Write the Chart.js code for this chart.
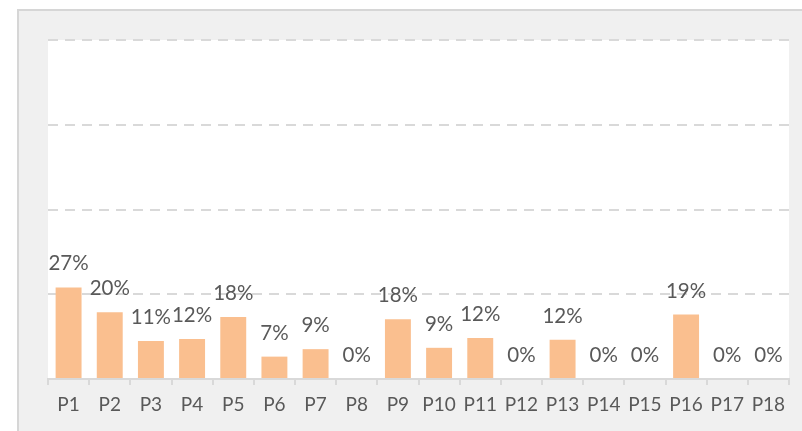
<!DOCTYPE html>
<html>
<head>
<meta charset="utf-8">
<script src="https://cdn.jsdelivr.net/npm/chart.js@4"></script>
<style>
html,body{margin:0;padding:0;background:#fff;}
#wrap{position:relative;width:802px;height:431px;}
canvas{display:block;}
</style>
</head>
<body>
<div id="wrap"><canvas id="c" width="802" height="431"></canvas></div>
<script>
const categories = ['P1','P2','P3','P4','P5','P6','P7','P8','P9','P10','P11','P12','P13','P14','P15','P16','P17','P18'];
const shares = [27, 19.7, 11.2, 11.8, 18.3, 6.6, 8.8, 0, 17.6, 9.2, 12.1, 0, 11.6, 0, 0, 19, 0, 0];
const shareLabels = ['27%','20%','11%','12%','18%','7%','9%','0%','18%','9%','12%','0%','12%','0%','0%','19%','0%','0%'];
const yTicks = [0, 25, 50, 75, 100];

const FONT = 'Lato, "Open Sans", sans-serif';
const TEXT = '#595959';
const GRID = '#D9D9D9';

const backdrop = {
  id: 'backdrop',
  beforeDraw(chart) {
    const ctx = chart.ctx, a = chart.chartArea;
    ctx.save();
    ctx.fillStyle = '#ffffff';
    ctx.fillRect(0, 0, chart.width, chart.height);
    ctx.fillStyle = '#F0F0F0';
    ctx.fillRect(17, 9, chart.width - 17, chart.height - 9);
    ctx.fillStyle = '#D6D6D6';
    ctx.fillRect(17, 9, chart.width - 17, 2);
    ctx.fillRect(17, 9, 2, chart.height - 9);
    ctx.fillStyle = '#ffffff';
    ctx.fillRect(a.left, a.top, a.right - a.left, a.bottom - a.top);
    ctx.restore();
  }
};

const barLabels = {
  id: 'barLabels',
  afterDatasetsDraw(chart) {
    const ctx = chart.ctx;
    const meta = chart.getDatasetMeta(0);
    ctx.save();
    ctx.font = '20.5px ' + FONT;
    ctx.fillStyle = TEXT;
    ctx.textAlign = 'center';
    ctx.textBaseline = 'alphabetic';
    meta.data.forEach((bar, i) => {
      ctx.fillText(shareLabels[i], bar.x, bar.y - 17);
    });
    ctx.restore();
  }
};

new Chart(document.getElementById('c'), {
  type: 'bar',
  data: {
    labels: categories,
    datasets: [{
      data: shares,
      backgroundColor: '#FABF8F',
      borderWidth: 0,
      categoryPercentage: 1,
      barPercentage: 0.63
    }]
  },
  options: {
    responsive: false,
    animation: false,
    devicePixelRatio: 1,
    layout: { padding: { left: 48, right: 13, top: 40, bottom: 0 } },
    plugins: { legend: { display: false }, tooltip: { enabled: false } },
    scales: {
      x: {
        afterFit(s) { s.height = 52; },
        grid: { display: true, drawOnChartArea: false, drawTicks: true, tickLength: 6, color: GRID, lineWidth: 2, offset: true },
        border: { display: true, color: GRID, width: 2 },
        ticks: { color: TEXT, font: { family: FONT, size: 19 }, padding: 8, maxRotation: 0, autoSkip: false }
      },
      y: {
        min: 0, max: 100,
        afterFit(s) { s.width = 0; },
        afterBuildTicks(s) { s.ticks = yTicks.map(v => ({ value: v })); },
        grid: { color: c => c.tick && c.tick.value === 0 ? 'rgba(0,0,0,0)' : GRID, lineWidth: 2, drawTicks: false },
        border: { display: false, dash: [10, 7] },
        ticks: { display: false }
      }
    }
  },
  plugins: [backdrop, barLabels]
});
</script>
</body>
</html>
